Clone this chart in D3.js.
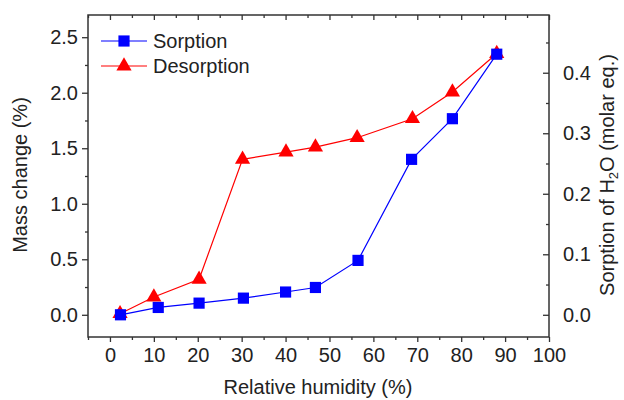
<!DOCTYPE html>
<html><head><meta charset="utf-8">
<script src="https://cdn.jsdelivr.net/npm/d3@7"></script>
<style>body{margin:0;background:#fff}svg{display:block}text{font-family:"Liberation Sans",Arial,sans-serif;fill:#222}</style>
</head><body>
<svg id="c" width="624" height="400"></svg>
<script>
const sorpX = [2.4, 11.0, 20.3, 30.4, 40.0, 46.8, 56.5, 68.7, 78.0, 88.1];
const sorpY = [0.0, 0.066, 0.105, 0.15, 0.205, 0.246, 0.49, 1.40, 1.766, 2.347];
const desX = [2.3, 10.0, 20.3, 30.2, 40.1, 46.8, 56.3, 68.9, 78.0, 88.1];
const desY = [0.01, 0.16, 0.32, 1.40, 1.465, 1.51, 1.595, 1.766, 2.006, 2.353];
const xTicks = [0,10,20,30,40,50,60,70,80,90,100];
const yTicks = [0.0,0.5,1.0,1.5,2.0,2.5];
const y2Ticks = [0.0,0.1,0.2,0.3,0.4];
const seriesNames = ["Sorption","Desorption"];
const massPerMolarEq = 5.45;

const svg = d3.select("#c");
const L=88,R=549,T=15,B=337;
const x = d3.scaleLinear().domain([-5,100]).range([L,R]);
const y = d3.scaleLinear().domain([-0.2,2.7]).range([B,T]);
const y2 = d3.scaleLinear().domain([-0.2/massPerMolarEq, 2.7/massPerMolarEq]).range([B,T]);
const axisCol="#333";

function styleAxis(g){
  g.select(".domain").remove();
  g.selectAll("line").attr("stroke",axisCol).attr("stroke-width",1.3);
  g.selectAll("text").style("font-size","20px").attr("fill","#222");
}
// minor ticks
const xMinor = d3.range(-5,101,5).filter(v=>v%10!==0);
const yMinor = d3.range(-0.25,2.8,0.5).map(v=>+v.toFixed(2)).filter(v=>v>=-0.2&&v<=2.7);
const y2Minor = [0.05,0.15,0.25,0.35,0.45];

// bottom
svg.append("g").attr("transform",`translate(0,${B})`)
  .call(d3.axisBottom(x).tickValues(xTicks).tickFormat(d3.format("d")).tickSizeOuter(0).tickSize(5).tickPadding(6)).call(styleAxis);
svg.append("g").attr("transform",`translate(0,${B})`)
  .call(d3.axisBottom(x).tickValues(xMinor).tickFormat("").tickSizeOuter(0).tickSize(3)).call(styleAxis);
// top inward
svg.append("g").attr("transform",`translate(0,${T})`)
  .call(d3.axisBottom(x).tickValues(xTicks).tickFormat("").tickSizeOuter(0).tickSize(5)).call(styleAxis);
svg.append("g").attr("transform",`translate(0,${T})`)
  .call(d3.axisBottom(x).tickValues(xMinor).tickFormat("").tickSizeOuter(0).tickSize(3)).call(styleAxis);
// left
svg.append("g").attr("transform",`translate(${L},0)`)
  .call(d3.axisLeft(y).tickValues(yTicks).tickFormat(d3.format(".1f")).tickSizeOuter(0).tickSize(6).tickPadding(4)).call(styleAxis);
svg.append("g").attr("transform",`translate(${L},0)`)
  .call(d3.axisLeft(y).tickValues(yMinor).tickFormat("").tickSizeOuter(0).tickSize(3)).call(styleAxis);
// right inward
const gR = svg.append("g").attr("transform",`translate(${R},0)`)
  .call(d3.axisRight(y2).tickValues(y2Ticks).tickFormat(d3.format(".1f")).tickSizeOuter(0).tickSize(6).tickPadding(8)).call(styleAxis);
gR.selectAll(".tick line").attr("x2",-6);
const gR2 = svg.append("g").attr("transform",`translate(${R},0)`)
  .call(d3.axisRight(y2).tickValues(y2Minor).tickFormat("").tickSizeOuter(0).tickSize(3)).call(styleAxis);
gR2.selectAll(".tick line").attr("x2",-3);

// frame
svg.append("rect").attr("x",L).attr("y",T).attr("width",R-L).attr("height",B-T)
  .attr("fill","none").attr("stroke",axisCol).attr("stroke-width",1.5);

// series
const line = d3.line().x(d=>x(d[0])).y(d=>y(d[1]));
const des = desX.map((v,i)=>[v,desY[i]]);
const sor = sorpX.map((v,i)=>[v,sorpY[i]]);
const tri = d3.symbol().type(d3.symbolTriangle).size(100);
const sq = d3.symbol().type(d3.symbolSquare).size(125);

svg.append("path").datum(des).attr("d",line).attr("fill","none").attr("stroke","#ff0000").attr("stroke-width",1.2);
svg.selectAll(".tri").data(des).enter().append("path")
  .attr("transform",d=>`translate(${x(d[0])},${y(d[1])})`).attr("d",tri).attr("fill","#ff0000");
svg.append("path").datum(sor).attr("d",line).attr("fill","none").attr("stroke","#0000ff").attr("stroke-width",1.2);
svg.selectAll(".sq").data(sor).enter().append("path")
  .attr("transform",d=>`translate(${x(d[0])},${y(d[1])})`).attr("d",sq).attr("fill","#0000ff");

// legend
const leg = [{n:seriesNames[0],c:"#0000ff",s:sq,yy:41},{n:seriesNames[1],c:"#ff0000",s:tri,yy:66}];
leg.forEach(l=>{
  svg.append("line").attr("x1",101).attr("x2",147).attr("y1",l.yy).attr("y2",l.yy).attr("stroke",l.c).attr("stroke-width",1.2);
  svg.append("path").attr("transform",`translate(124,${l.yy})`).attr("d",l.s).attr("fill",l.c);
  svg.append("text").attr("x",153).attr("y",l.yy+7).style("font-size","20px").text(l.n);
});

// axis titles
svg.append("text").attr("x",318).attr("y",394).attr("text-anchor","middle").style("font-size","20px").text("Relative humidity (%)");
svg.append("text").attr("transform","translate(27,175) rotate(-90)").attr("text-anchor","middle").style("font-size","20px").text("Mass change (%)");
const t2 = svg.append("text").attr("transform","translate(614,175) rotate(-90)").attr("text-anchor","middle").style("font-size","20px");
t2.append("tspan").text("Sorption of H");
t2.append("tspan").attr("dy",4).style("font-size","13px").text("2");
t2.append("tspan").attr("dy",-4).text("O (molar eq.)");
</script>
</body></html>
